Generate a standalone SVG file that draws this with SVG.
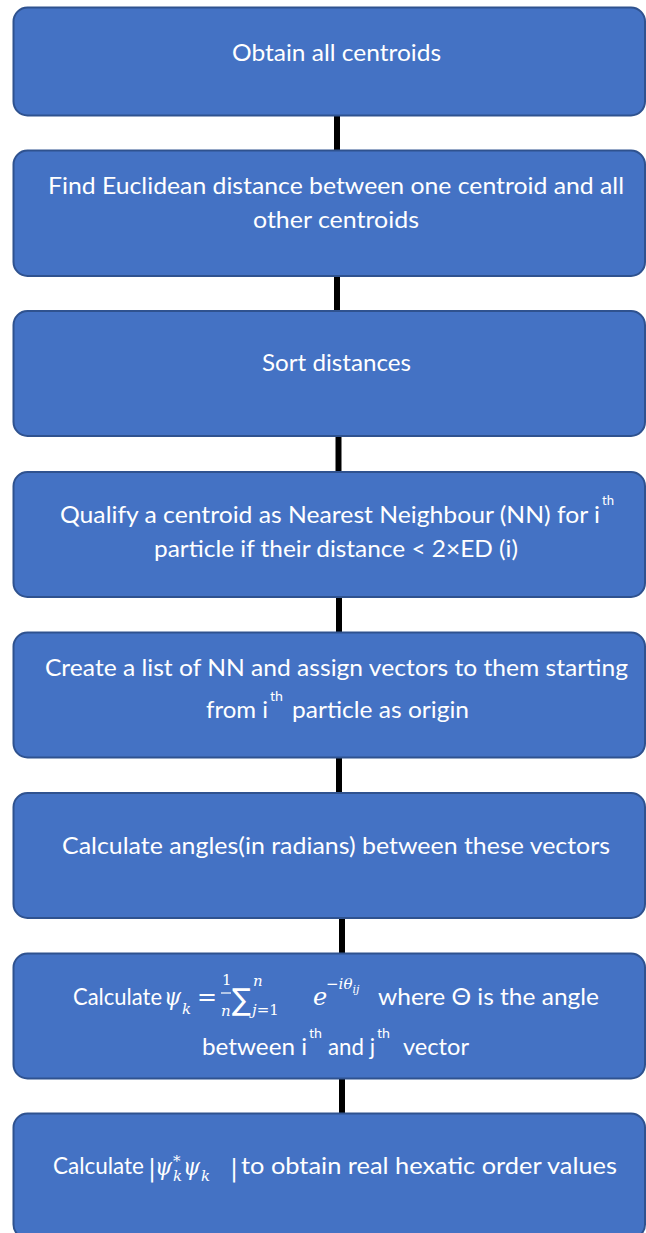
<svg xmlns="http://www.w3.org/2000/svg" width="646" height="1233" viewBox="0 0 646 1233">
<style>
.box{fill:#4472C4;stroke:#2F528F;stroke-width:2}
.t{font-family:Lato,"Open Sans",sans-serif;font-size:24px;fill:#fff}
.sup{font-family:Lato,"Open Sans",sans-serif;font-size:14px;fill:#fff}
.m{font-family:"DejaVu Serif","Liberation Serif",serif;font-style:italic;font-size:24px;fill:#fff}
.mu{font-family:"DejaVu Serif","Liberation Serif",serif;font-size:24px;fill:#fff}
.ms{font-family:"DejaVu Serif","Liberation Serif",serif;font-style:italic;font-size:15px;fill:#fff}
.msu{font-family:"DejaVu Serif","Liberation Serif",serif;font-size:15px;fill:#fff}
.conn line{stroke:#000;stroke-width:6}
</style>
<rect width="646" height="1233" fill="#fff"/>
<g class="conn" id="connectors">
<line x1="337" y1="115" x2="337" y2="151"/>
<line x1="337" y1="276" x2="337" y2="311"/>
<line x1="338.5" y1="436" x2="338.5" y2="472"/>
<line x1="339" y1="597" x2="339" y2="633"/>
<line x1="339" y1="757" x2="339" y2="793"/>
<line x1="342" y1="918" x2="342" y2="954"/>
<line x1="342" y1="1078" x2="342" y2="1114"/>
</g>
<g id="n1"><rect class="box" x="13.5" y="7.5" width="631.5" height="108" rx="14"/>
<text class="t" x="232" y="61" textLength="209" lengthAdjust="spacingAndGlyphs">Obtain all centroids</text></g>
<g id="n2"><rect class="box" x="13.5" y="150.5" width="631.5" height="125.5" rx="14"/>
<text class="t" x="48" y="194" textLength="576" lengthAdjust="spacingAndGlyphs">Find Euclidean distance between one centroid and all</text>
<text class="t" x="253" y="228" textLength="166" lengthAdjust="spacingAndGlyphs">other centroids</text></g>
<g id="n3"><rect class="box" x="13.5" y="311" width="631.5" height="125" rx="14"/>
<text class="t" x="262" y="371" textLength="149" lengthAdjust="spacingAndGlyphs">Sort distances</text></g>
<g id="n4"><rect class="box" x="13.5" y="472" width="631.5" height="125" rx="14"/>
<text class="t" x="60" y="523" textLength="540" lengthAdjust="spacingAndGlyphs">Qualify a centroid as Nearest Neighbour (NN) for i</text>
<text class="sup" x="602" y="505" textLength="12" lengthAdjust="spacingAndGlyphs">th</text>
<text class="t" x="154" y="557" textLength="364" lengthAdjust="spacingAndGlyphs">particle if their distance &lt; 2×ED (i)</text></g>
<g id="n5"><rect class="box" x="13.5" y="632.5" width="631.5" height="125" rx="14"/>
<text class="t" x="45" y="676" textLength="583" lengthAdjust="spacingAndGlyphs">Create a list of NN and assign vectors to them starting</text>
<text class="t" x="206" y="718" textLength="62" lengthAdjust="spacingAndGlyphs">from i</text>
<text class="sup" x="270" y="701" textLength="13" lengthAdjust="spacingAndGlyphs">th</text>
<text class="t" x="292" y="718" textLength="177" lengthAdjust="spacingAndGlyphs">particle as origin</text></g>
<g id="n6"><rect class="box" x="13.5" y="793" width="631.5" height="125" rx="14"/>
<text class="t" x="62" y="854" textLength="548" lengthAdjust="spacingAndGlyphs">Calculate angles(in radians) between these vectors</text></g>
<g id="n7"><rect class="box" x="13.5" y="953.5" width="631.5" height="125" rx="14"/>
<text class="t" x="73" y="1005" textLength="89" lengthAdjust="spacingAndGlyphs">Calculate</text>
<text class="m" x="164" y="1005" textLength="17" lengthAdjust="spacingAndGlyphs">ψ</text>
<text class="ms" x="182" y="1014">k</text>
<text class="mu" x="197" y="1005" textLength="20" lengthAdjust="spacingAndGlyphs">=</text>
<text class="msu" x="222" y="985" font-size="14">1</text>
<line x1="221" y1="993" x2="231" y2="993" stroke="#fff" stroke-width="1.2"/>
<text class="ms" x="221" y="1016" font-size="14">n</text>
<text x="232" y="1010" font-family="'DejaVu Sans',sans-serif" font-size="30" fill="#fff" textLength="19" lengthAdjust="spacingAndGlyphs">∑</text>
<text class="ms" x="253" y="986">n</text>
<text class="ms" x="252" y="1015">j<tspan class="msu" font-style="normal">=1</tspan></text>
<text class="m" x="313" y="1005">e</text>
<text class="ms" x="326" y="989">−<tspan>iθ</tspan><tspan font-size="11" dy="4">ij</tspan></text>
<text class="t" x="378" y="1005" textLength="221" lengthAdjust="spacingAndGlyphs">where Θ is the angle</text>
<text class="t" x="202" y="1055" textLength="105" lengthAdjust="spacingAndGlyphs">between i</text>
<text class="sup" x="309" y="1038" textLength="13" lengthAdjust="spacingAndGlyphs">th</text>
<text class="t" x="328" y="1055" textLength="47" lengthAdjust="spacingAndGlyphs">and j</text>
<text class="sup" x="377" y="1038" textLength="13" lengthAdjust="spacingAndGlyphs">th</text>
<text class="t" x="403" y="1055" textLength="66" lengthAdjust="spacingAndGlyphs">vector</text></g>
<g id="n8"><rect class="box" x="13.5" y="1113.5" width="631.5" height="125" rx="14"/>
<text class="t" x="53" y="1174" textLength="91" lengthAdjust="spacingAndGlyphs">Calculate</text>
<text class="mu" x="148" y="1176">|</text>
<text class="m" x="155" y="1175" textLength="17" lengthAdjust="spacingAndGlyphs">ψ</text>
<text class="msu" x="173" y="1166" font-size="13">*</text>
<text class="ms" x="173" y="1181" font-size="13">k</text>
<text class="m" x="183" y="1175" textLength="17" lengthAdjust="spacingAndGlyphs">ψ</text>
<text class="ms" x="201" y="1181" font-size="13">k</text>
<text class="mu" x="230" y="1176">|</text>
<text class="t" x="241" y="1174" textLength="376" lengthAdjust="spacingAndGlyphs">to obtain real hexatic order values</text></g>
</svg>
